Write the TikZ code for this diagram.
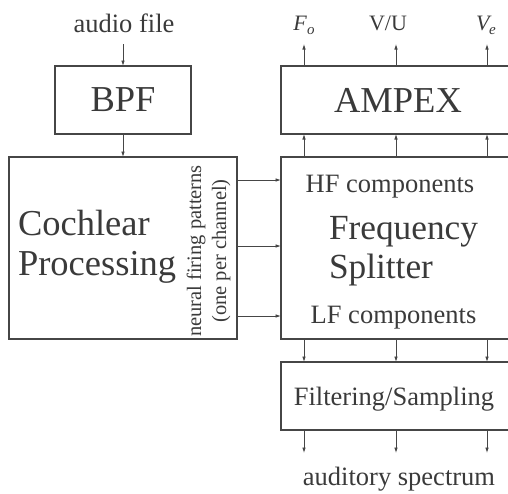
\documentclass[tikz,border=0pt]{standalone}
\usepackage{fontspec}
\setmainfont{Liberation Serif}
\usetikzlibrary{arrows.meta}
\definecolor{ink}{RGB}{58,58,58}
\definecolor{edge}{RGB}{70,70,70}
\begin{document}
\begin{tikzpicture}[x=1pt,y=-1pt,
  txt/.style={inner sep=0pt,outer sep=0pt,text=ink},
  big/.style={txt,font=\fontsize{36.5}{40}\selectfont},
  bigb/.style={txt,font=\fontsize{35.3}{40}\selectfont},
  mid/.style={txt,font=\fontsize{26.5}{30}\selectfont},
  lbl/.style={txt,font=\fontsize{22}{26}\selectfont},
  box/.style={draw=edge,line width=1.2pt,inner sep=0pt,outer sep=0pt,text=ink},
  openbox/.style={draw=none,inner sep=0pt,outer sep=0pt},
  arr/.style={draw=edge,line width=0.8pt,-{Latex[length=5.5pt,width=3.6pt]}}]
\useasboundingbox (0,0) rectangle (508,493);

% left column
\node[mid,anchor=base] (audio) at (124,32) {audio file};
\coordinate (ain) at (123,44);
\node[box,big,minimum width=136pt,minimum height=68pt] (bpf) at (123,100) {BPF};
\node[box,minimum width=228pt,minimum height=182pt] (coch) at (123,248) {};
\node[big,anchor=base west] (cochA) at (18,235) {Cochlear};
\node[big,anchor=base west] (cochB) at (18,275) {Processing};
\node[txt,rotate=90,align=center,font=\fontsize{20.5}{25}\selectfont] (nfp) at (208.5,251)
  {neural firing patterns\\(one per channel)};

% right column boxes (open on the right, cut by the picture edge)
\node[openbox,minimum width=227pt,minimum height=68pt] (ampex) at (394.5,100) {};
\node[openbox,minimum width=227pt,minimum height=182pt] (freq) at (394.5,248) {};
\node[openbox,minimum width=227pt,minimum height=68pt] (filt) at (394.5,396) {};
\foreach \b in {ampex,freq,filt}
  \draw[edge,line width=1.2pt] (\b.north east) -- (\b.north west) -- (\b.south west) -- (\b.south east);

\node[big] (ampexT) at (398,100) {AMPEX};
\node[mid,anchor=base] (hf) at (390,192) {HF components};
\node[bigb,anchor=base west] (freqA) at (329,239) {Frequency};
\node[bigb,anchor=base west] (freqB) at (329,278) {Splitter};
\node[mid,anchor=base] (lf) at (393.5,323) {LF components};
\node[mid,anchor=base] (filtT) at (394,405) {Filtering/Sampling};
\node[mid,anchor=base] (spec) at (399,485) {auditory spectrum};

% output labels
\node[lbl,anchor=base] (fo) at (304,30) {\itshape F\kern0.5pt\raisebox{-0.22em}{\fontsize{15}{15}\selectfont\itshape o}};
\node[lbl,anchor=base] (vu) at (388,30) {V/U};
\node[lbl,anchor=base] (ve) at (486,30) {\itshape V\kern-0.5pt\raisebox{-0.22em}{\fontsize{15}{15}\selectfont\itshape e}};

% connectors, left column
\draw[arr] (ain) -- (bpf.north);
\draw[arr] (bpf.south) -- (coch.north);

% cochlear -> splitter
\foreach \yy in {180,246,316}
  \draw[arr] (coch.east |- 0,\yy) -- (freq.west |- 0,\yy);

% vertical connectors in right column
\foreach \xx/\nm in {304/a,396/b,487/c}{
  \coordinate (top\nm) at (\xx,44);
  \coordinate (bot\nm) at (\xx,453);
  \draw[arr] (freq.north -| \xx,0) -- (ampex.south -| \xx,0);
  \draw[arr] (ampex.north -| \xx,0) -- (top\nm);
  \draw[arr] (freq.south -| \xx,0) -- (filt.north -| \xx,0);
  \draw[arr] (filt.south -| \xx,0) -- (bot\nm);
}
\end{tikzpicture}
\end{document}
